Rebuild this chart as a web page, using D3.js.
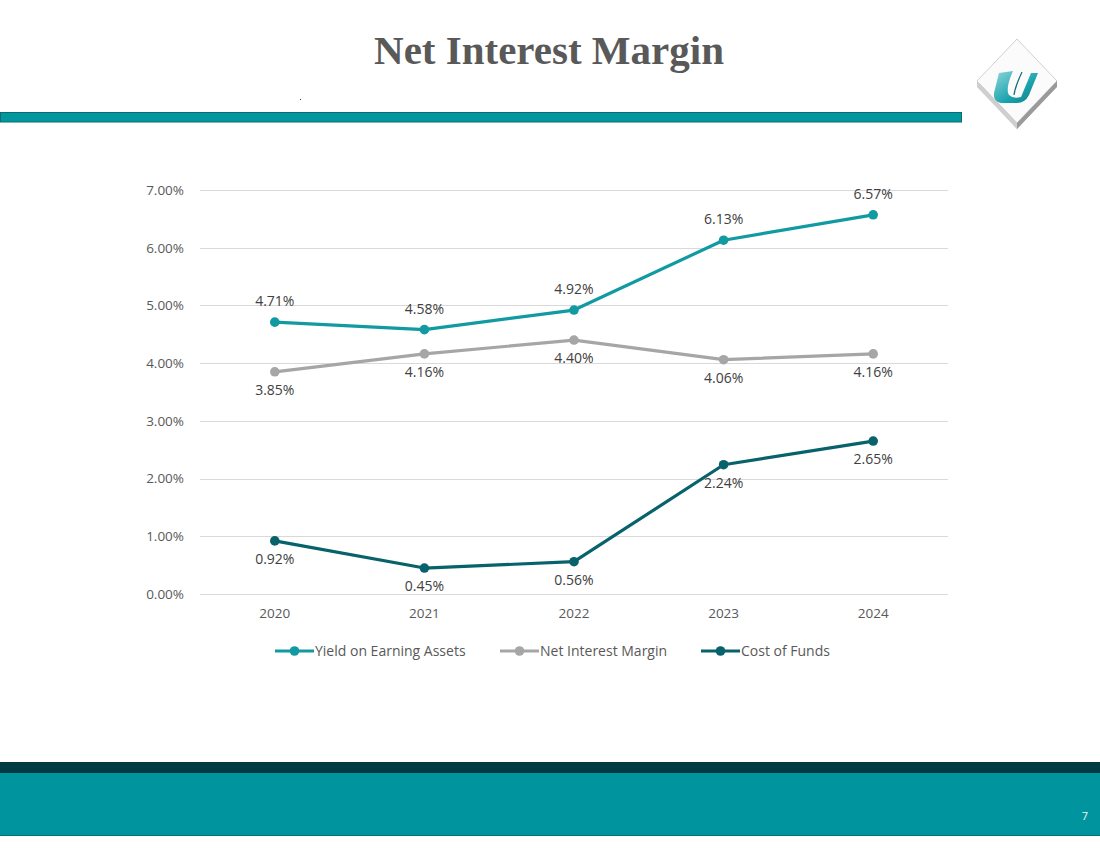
<!DOCTYPE html>
<html>
<head>
<meta charset="utf-8">
<script src="https://d3js.org/d3.v7.min.js"></script>
<style>
  * { margin: 0; padding: 0; }
  body { background: #fff; width: 1100px; height: 849px; overflow: hidden; }
  svg { display: block; }
  text { font-family: 'Open Sans', sans-serif; }
</style>
</head>
<body>
<svg id="viz" width="1100" height="849"></svg>
<script>
  // chart data
  const years = ["2020", "2021", "2022", "2023", "2024"];
  const yieldEarning = [4.71, 4.58, 4.92, 6.13, 6.57];
  const netInterest = [3.85, 4.16, 4.40, 4.06, 4.16];
  const costFunds = [0.92, 0.45, 0.56, 2.24, 2.65];
  const yTicks = [0, 1, 2, 3, 4, 5, 6, 7];

  const series = [
    { name: "Yield on Earning Assets", values: yieldEarning, color: "#119aa2", labelPos: ["up", "up", "up", "up", "up"] },
    { name: "Net Interest Margin", values: netInterest, color: "#a6a6a6", labelPos: ["down", "down", "down", "down", "down"] },
    { name: "Cost of Funds", values: costFunds, color: "#07626b", labelPos: ["down", "down", "down", "down", "down"] }
  ];

  const svg = d3.select("#viz");

  // slide decoration
  svg.append("text")
    .attr("x", 549).attr("y", 64)
    .attr("text-anchor", "middle")
    .style("font-family", "'Liberation Serif', 'Times New Roman', serif")
    .style("font-weight", "bold")
    .style("font-size", "41px")
    .attr("fill", "#595959")
    .text("Net Interest Margin");

  svg.append("rect").attr("x", 300).attr("y", 99).attr("width", 1).attr("height", 1).attr("fill", "#333");

  svg.append("rect")
    .attr("x", 0.5).attr("y", 112.5).attr("width", 961).attr("height", 9.5)
    .attr("fill", "#00979f").attr("stroke", "#0b6b73").attr("stroke-width", 1);

  svg.append("rect").attr("x", 0).attr("y", 762).attr("width", 1100).attr("height", 11).attr("fill", "#013a42");
  svg.append("rect").attr("x", 0).attr("y", 773).attr("width", 1100).attr("height", 63).attr("fill", "#00959e");
  svg.append("rect").attr("x", 0).attr("y", 835).attr("width", 1100).attr("height", 1).attr("fill", "#0a6e75");
  svg.append("text")
    .attr("x", 1085).attr("y", 820)
    .attr("text-anchor", "middle")
    .style("font-size", "11px")
    .attr("fill", "#e8f6f7")
    .text("7");

  // logo
  const defs = svg.append("defs");
  const lg = defs.append("linearGradient").attr("id", "uGrad").attr("x1", 0).attr("y1", 0).attr("x2", 1).attr("y2", 1);
  lg.append("stop").attr("offset", "0%").attr("stop-color", "#8fd6dc");
  lg.append("stop").attr("offset", "60%").attr("stop-color", "#1aa3ad");
  lg.append("stop").attr("offset", "100%").attr("stop-color", "#0b7d86");
  const logo = svg.append("g").attr("transform", "translate(1017,85)");
  logo.append("path").attr("d", "M0,-44 L40,0 L0,44 L-40,0 Z").attr("fill", "#bcbcbc");
  logo.append("path").attr("d", "M0,-46 L40,-4 L0,38 L-40,-4 Z").attr("fill", "#fbfbfb").attr("stroke", "#d0d0d0");
  logo.append("path").attr("d", "M0,38 L40,-4 L40,2 L0,44 Z").attr("fill", "#9a9a9a");
  logo.append("path").attr("d", "M0,38 L-40,-4 L-40,2 L0,44 Z").attr("fill", "#cfcfcf");
  logo.append("path")
    .attr("d", "M-18,-12 L-4,-14 Q-12,4 -8,10 Q-4,14 4,12 L14,-12 L21,-12 L12,10 Q8,18 0,18 L-16,18 Q-26,16 -22,4 Z")
    .attr("fill", "url(#uGrad)");
  logo.append("path").attr("d", "M5,-13 Q-2,2 -3,10").attr("stroke", "#0b6e76").attr("stroke-width", 1.2).attr("fill", "none");

  // chart
  const x = d3.scaleBand().domain(years).range([200, 948]);
  const y = d3.scaleLinear().domain([0, 7]).range([594, 190]);

  const grid = svg.append("g");
  grid.selectAll("line").data(yTicks).join("line")
    .attr("x1", 200).attr("x2", 948)
    .attr("y1", d => Math.round(y(d)) + 0.5).attr("y2", d => Math.round(y(d)) + 0.5)
    .attr("stroke", "#d9d9d9").attr("stroke-width", 1);

  const yAxis = svg.append("g").attr("transform", "translate(200,0)")
    .call(d3.axisLeft(y).tickValues(yTicks).tickFormat(d => d.toFixed(2) + "%").tickSize(0).tickPadding(16));
  yAxis.select(".domain").remove();
  yAxis.selectAll("text").style("font-size", "13.5px").attr("fill", "#595959").style("font-family", "'Open Sans', sans-serif");

  const xAxis = svg.append("g").attr("transform", "translate(0,594)")
    .call(d3.axisBottom(x).tickSize(0).tickPadding(14));
  xAxis.select(".domain").remove();
  xAxis.selectAll("text").style("font-size", "13.5px").attr("fill", "#595959").style("font-family", "'Open Sans', sans-serif");

  const cx = (d, i) => x(years[i]) + x.bandwidth() / 2;
  const line = d3.line().x(cx).y(d => y(d));

  series.forEach(s => {
    const g = svg.append("g");
    g.append("path").datum(s.values)
      .attr("d", line)
      .attr("fill", "none")
      .attr("stroke", s.color)
      .attr("stroke-width", 3.2)
      .attr("stroke-linejoin", "round");
    g.selectAll("circle").data(s.values).join("circle")
      .attr("cx", cx).attr("cy", d => y(d)).attr("r", 4.8)
      .attr("fill", s.color);
    g.selectAll("text").data(s.values).join("text")
      .attr("x", cx)
      .attr("y", (d, i) => s.labelPos[i] === "up" ? y(d) - 16 : y(d) + 23)
      .attr("text-anchor", "middle")
      .style("font-size", "14px")
      .attr("fill", "#404040")
      .text(d => d.toFixed(2) + "%");
  });

  // legend
  const legendX = [275, 500, 701];
  const legend = svg.append("g");
  series.forEach((s, i) => {
    const g = legend.append("g").attr("transform", `translate(${legendX[i]},651)`);
    g.append("line").attr("x1", 0).attr("x2", 39).attr("y1", 0).attr("y2", 0)
      .attr("stroke", s.color).attr("stroke-width", 3.2);
    g.append("circle").attr("cx", 19.5).attr("cy", 0).attr("r", 4.8).attr("fill", s.color);
    g.append("text").attr("x", 40).attr("y", 5)
      .style("font-size", "14px").attr("fill", "#595959").text(s.name);
  });
</script>
</body>
</html>
